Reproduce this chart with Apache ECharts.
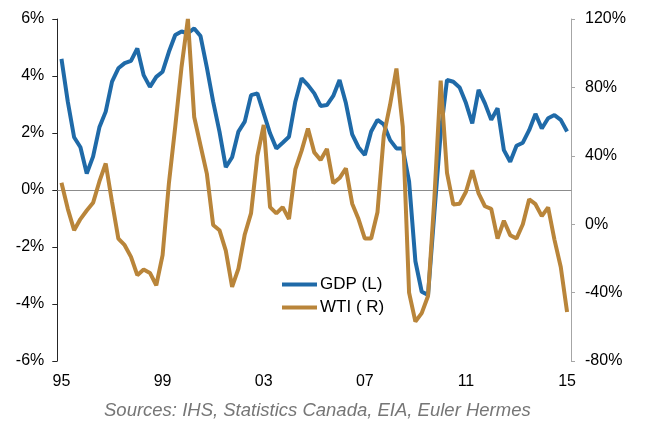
<!DOCTYPE html>
<html>
<head>
<meta charset="utf-8">
<script src="https://cdn.jsdelivr.net/npm/echarts@6/dist/echarts.min.js"></script>
<style>html,body{margin:0;padding:0;background:#fff;}#c{width:645px;height:421px;}</style>
</head>
<body>
<div id="c"></div>
<script>
// Quarterly categories 1995Q1 .. 2015Q1
var quarters = [];
for (var y = 1995; y <= 2015; y++) { for (var q = 1; q <= 4; q++) { if (y === 2015 && q > 1) break; quarters.push(y + 'Q' + q); } }

var gdp = [4.6, 3.1, 1.85, 1.5, 0.58, 1.17, 2.2, 2.75, 3.8, 4.27,
  4.45, 4.53, 4.97, 4.03, 3.62, 3.97, 4.15, 4.85, 5.44, 5.56,
  5.5, 5.67, 5.4, 4.3, 3.1, 2.05, 0.8, 1.15, 2.05, 2.4,
  3.33, 3.39, 2.69, 1.99, 1.46, 1.66, 1.87, 3.1, 3.92, 3.68,
  3.39, 2.95, 2.98, 3.3, 3.86, 3.05, 1.95, 1.5, 1.23, 2.05,
  2.46, 2.3, 1.75, 1.46, 1.46, 0.3, -2.5, -3.57, -3.68, -0.8,
  2.0, 3.86, 3.8, 3.6, 3.05, 2.34, 3.51, 3.04, 2.46, 2.87,
  1.4, 0.99, 1.55, 1.66, 2.1, 2.67, 2.16, 2.52, 2.63, 2.46, 2.05];

var wti = [24.2, 9, -3.5, 3, 8, 12.5, 25, 35.5, 13, -8.4,
  -12.3, -19.1, -29.8, -26.5, -28.5, -35.7, -18.1, 24, 57, 92,
  120, 62.7, 46, 29.6, -0.5, -3.5, -15.5, -36.7, -26, -6,
  6.5, 40, 58, 10, 6.3, 10, 3, 32, 43, 56,
  42, 37.5, 44, 24, 27, 32.6, 12, 3, -8.4, -8.4,
  7, 52, 70, 91, 57, -40, -57, -52, -42, 15,
  84, 30, 11.5, 12, 19, 31.5, 18, 10.5, 9, -8.4,
  2, -6.4, -8.4, 0, 14.6, 11.7, 4.7, 9.8, -9, -25, -51.3];

var tickIndex = [0, 16, 32, 48, 64, 80];
var tickLabels = ['95', '99', '03', '07', '11', '15'];
var seriesNames = ['GDP (L)', 'WTI ( R)'];
var sourceText = 'Sources: IHS, Statistics Canada, EIA, Euler Hermes';

function pairs(arr) { return arr.map(function (v, i) { return [i, v]; }); }

var FONT = '"Liberation Sans", Arial, sans-serif';
var chart = echarts.init(document.getElementById('c'), null, { renderer: 'canvas' });
chart.setOption({
  animation: false,
  backgroundColor: '#ffffff',
  textStyle: { fontFamily: FONT },
  title: {
    text: sourceText,
    left: 104, top: 401, padding: 0,
    textStyle: { fontFamily: FONT, fontSize: 18.5, fontStyle: 'italic', fontWeight: 'normal', color: '#767676' }
  },
  grid: { left: 57.3, right: 74, top: 19, bottom: 60, containLabel: false },
  legend: {
    orient: 'vertical', left: 282, top: 276, padding: 0,
    icon: 'rect', itemWidth: 35, itemHeight: 4, itemGap: 6,
    textStyle: { fontFamily: FONT, fontSize: 17, color: '#000', lineHeight: 17, padding: [0, 0, 0, -2] },
    data: seriesNames
  },
  xAxis: [{
    type: 'value', min: -0.66, max: 80.62, position: 'bottom',
    axisLine: { show: false, onZero: false }, axisTick: { show: false }, splitLine: { show: false },
    axisLabel: {
      customValues: tickIndex, margin: 13, fontSize: 16, color: '#000', fontFamily: FONT,
      formatter: function (v) { var k = tickIndex.indexOf(Math.round(v)); return k >= 0 ? tickLabels[k] : ''; }
    }
  }, {
    type: 'value', min: -0.66, max: 80.62, position: 'bottom',
    axisLine: { show: true, onZero: true, onZeroAxisIndex: 0, lineStyle: { color: '#8c8c8c', width: 1 } },
    axisTick: { show: false }, axisLabel: { show: false }, splitLine: { show: false }
  }],
  yAxis: [{
    type: 'value', min: -6, max: 6, interval: 2, position: 'left',
    axisLine: { show: true, onZero: false, lineStyle: { color: '#262626', width: 1 } },
    axisTick: { show: true, inside: false, length: 5, lineStyle: { color: '#262626' } },
    splitLine: { show: false },
    axisLabel: { formatter: '{value}%', fontSize: 16, color: '#000', margin: 13, fontFamily: FONT }
  }, {
    type: 'value', min: -80, max: 120, interval: 40, position: 'right',
    axisLine: { show: true, onZero: false, lineStyle: { color: '#a6a6a6', width: 1 } },
    axisTick: { show: true, inside: false, length: 4, lineStyle: { color: '#a6a6a6' } },
    splitLine: { show: false },
    axisLabel: { formatter: '{value}%', fontSize: 16, color: '#000', margin: 14, fontFamily: FONT }
  }],
  series: [{
    name: seriesNames[0], type: 'line', xAxisIndex: 0, yAxisIndex: 0,
    data: pairs(gdp), symbol: 'none', smooth: false,
    lineStyle: { color: '#1f6aa8', width: 4 }, itemStyle: { color: '#1f6aa8' }, z: 3
  }, {
    name: seriesNames[1], type: 'line', xAxisIndex: 0, yAxisIndex: 1,
    data: pairs(wti), symbol: 'none', smooth: false, clip: false,
    lineStyle: { color: '#b9853a', width: 4 }, itemStyle: { color: '#b9853a' }, z: 4
  }]
});
</script>
</body>
</html>
